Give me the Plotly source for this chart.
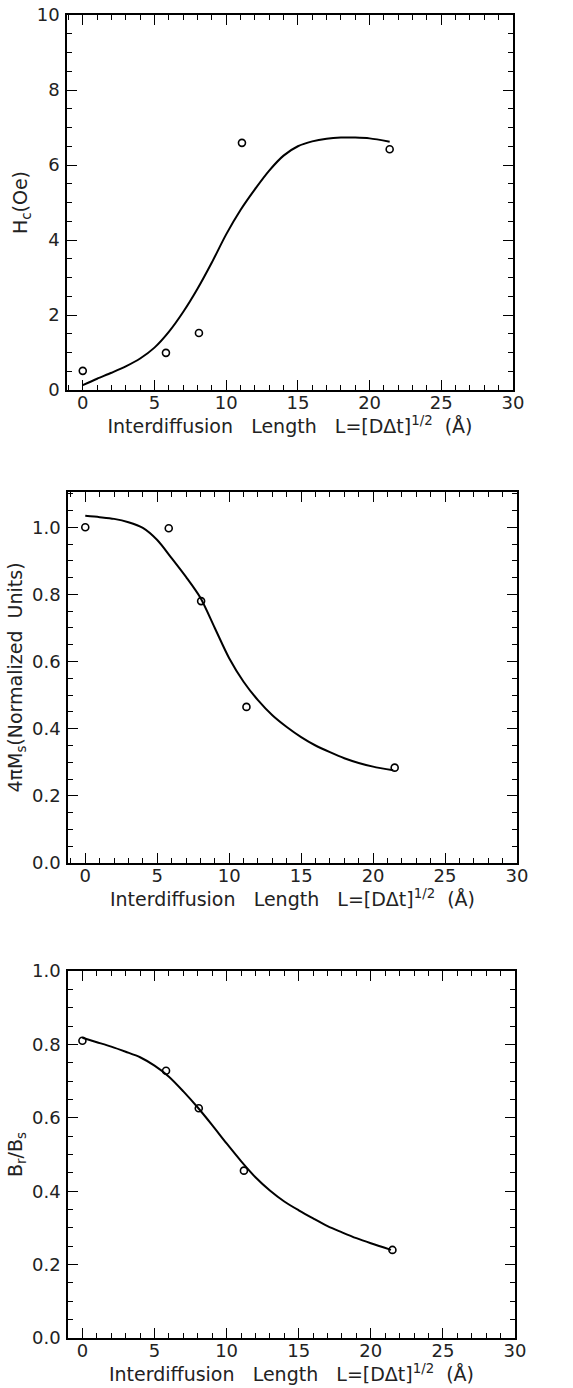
import plotly.graph_objects as go

# ---- measured data (open circles) ----
L_hc = [0.0, 5.8, 8.1, 11.1, 21.4]
hc_vals = [0.51, 0.99, 1.52, 6.59, 6.42]

L_ms = [0.0, 5.8, 8.05, 11.2, 21.5]
ms_vals = [1.0, 0.997, 0.78, 0.465, 0.284]

L_br = [0.0, 5.8, 8.07, 11.2, 21.5]
br_vals = [0.81, 0.728, 0.626, 0.456, 0.240]

# ---- fitted curves ----
fit_L = [0, 1, 2, 3, 4, 5, 6, 7, 8, 9, 10, 11, 12, 13, 14, 15, 16, 17, 18, 19, 20, 21.4]
hc_fit = [0.13, 0.30, 0.46, 0.63, 0.84, 1.13, 1.55, 2.08, 2.7, 3.4, 4.15, 4.8, 5.35, 5.85,
          6.25, 6.5, 6.63, 6.7, 6.73, 6.73, 6.71, 6.62]
ms_fit = [1.034, 1.03, 1.025, 1.015, 0.998, 0.962, 0.908, 0.852, 0.79, 0.70, 0.61, 0.54,
          0.485, 0.44, 0.405, 0.375, 0.35, 0.33, 0.312, 0.298, 0.287, 0.276]
br_fit = [0.818, 0.806, 0.794, 0.78, 0.765, 0.742, 0.712, 0.672, 0.628, 0.58, 0.53, 0.482,
          0.438, 0.402, 0.372, 0.348, 0.326, 0.305, 0.288, 0.272, 0.258, 0.24]

SP = "\u00a0"
X_TITLE = f"Interdiffusion{SP*3}Length{SP*3}L=[DΔt]<sup>1/2</sup>{SP*2}(Å)"
Y_TITLES = ["H<sub>c</sub>(Oe)", f"4πM<sub>s</sub>(Normalized{SP*2}Units)", "B<sub>r</sub>/B<sub>s</sub>"]

W, H = 573, 1388
TICK_FONT = dict(family="DejaVu Sans", size=18, color="#222")
TITLE_FONT = dict(family="DejaVu Sans", size=19, color="#222")

# panel boxes in pixels: (left, right, top, bottom)
boxes = [(67, 513, 15, 390), (68, 517, 492, 863), (68, 515, 971, 1338)]
xranges = [[-1.1, 30], [-1.2, 30], [-1.0, 30]]
yranges = [[0, 10], [0, 1.105], [0, 1.0]]
ydticks = [2, 0.2, 0.2]
yminor = [0.5, 0.05, 0.05]
ytickfmt = ["d", ".1f", ".1f"]

series = [(L_hc, hc_vals, hc_fit), (L_ms, ms_vals, ms_fit), (L_br, br_vals, br_fit)]

fig = go.Figure()
layout = dict(width=W, height=H, margin=dict(l=0, r=0, t=0, b=0),
              paper_bgcolor="white", plot_bgcolor="white", showlegend=False, font=TICK_FONT)

for i, ((l, r, t, b), (lx, ly, fy)) in enumerate(zip(boxes, series)):
    n = "" if i == 0 else str(i + 1)
    xa, ya = "x" + n, "y" + n
    fig.add_trace(go.Scatter(x=fit_L, y=fy, mode="lines",
                             line=dict(color="black", width=2, shape="spline", smoothing=0.8),
                             xaxis=xa, yaxis=ya))
    fig.add_trace(go.Scatter(x=lx, y=ly, mode="markers",
                             marker=dict(symbol="circle-open", size=7, color="black", line=dict(width=1.6)),
                             xaxis=xa, yaxis=ya))
    common = dict(showline=True, linecolor="black", linewidth=1.5, mirror="allticks",
                  ticks="inside", ticklen=10, tickwidth=1.3, tickcolor="black",
                  showgrid=False, zeroline=False, tickfont=TICK_FONT, automargin=False)
    layout["xaxis" + n] = dict(domain=[l / W, r / W], range=xranges[i], anchor=ya,
                               tick0=0, dtick=5, ticklabelstandoff=-4,
                               minor=dict(dtick=1, ticks="inside", ticklen=5, tickwidth=1.1, tickcolor="black"),
                               title=dict(text=X_TITLE, font=TITLE_FONT, standoff=4),
                               **common)
    layout["yaxis" + n] = dict(domain=[1 - b / H, 1 - t / H], range=yranges[i], anchor=xa,
                               tick0=0, dtick=ydticks[i], tickformat=ytickfmt[i], ticklabelstandoff=2,
                               minor=dict(dtick=yminor[i], ticks="inside", ticklen=5, tickwidth=1.1,
                                          tickcolor="black"),
                               title=dict(text=Y_TITLES[i], font=TITLE_FONT, standoff=4),
                               **common)

fig.update_layout(**layout)
fig.write_html("out.html")
